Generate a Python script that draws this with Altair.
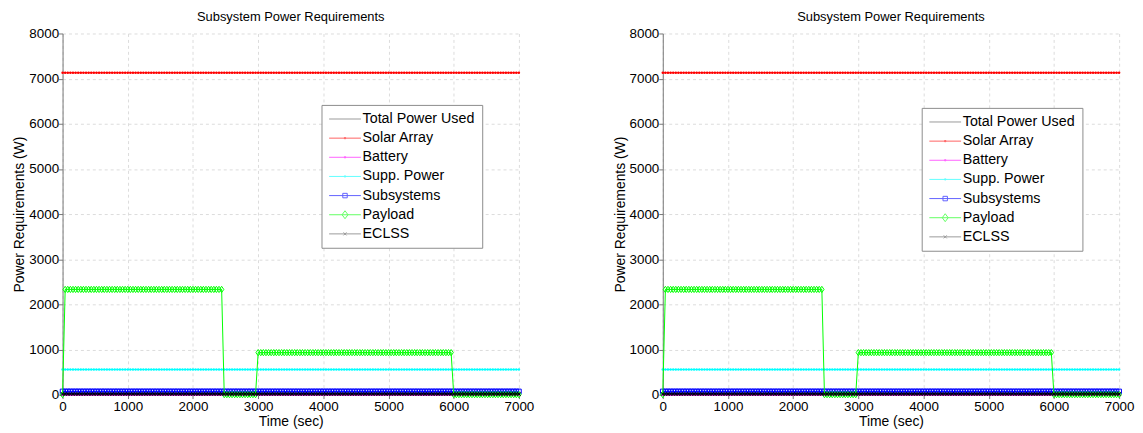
import altair as alt
import pandas as pd

# ---------------- data ----------------
SERIES = ["Total Power Used", "Solar Array", "Battery", "Supp. Power",
          "Subsystems", "Payload", "ECLSS"]

T_START, T_END, T_STEP = 0, 7000, 40          # sampling of the simulation (s)

TOTAL_W = 0          # hidden under the other traces
SOLAR_W = 7130
BATTERY_W = 0
SUPP_W = 555
SUBSYS_W = 70
ECLSS_W = 15
PAYLOAD_BREAKS = [0, 40, 2460, 3000, 6000, 7001]
PAYLOAD_LEVELS = [0, 2330, 0, 930, 0]

LEGEND_COLORS = ["#707070", "#ff2020", "#ff20ff", "#20ffff", "#2020ff", "#20ff20", "#707070"]

LINE = "M-3.2,0H3.2"
DOT = "M-0.12,-0.12H0.12V0.12H-0.12Z"
LEGEND_SHAPES = [
    LINE,
    LINE + DOT,
    LINE + DOT,
    LINE + DOT,
    LINE + "M-0.45,-0.45H0.45V0.45H-0.45Z",
    LINE + "M0,-0.8L0.6,0L0,0.8L-0.6,0Z",
    LINE + "M-0.3,-0.3L0.3,0.3M-0.3,0.3L0.3,-0.3",
]

# data-mark styles: colour, marker, marker size, filled
XMARK = "M-1,-1L1,1M-1,1L1,-1"
DIAMOND = "M0,-1L0.7,0L0,1L-0.7,0Z"
STYLE = {
    "Total Power Used": ("#000000", None, 0, False),
    "Solar Array": ("#ff0000", "circle", 6, True),
    "Battery": ("#ff00ff", "circle", 6, True),
    "Supp. Power": ("#00ffff", "circle", 6, True),
    "Subsystems": ("#0000ff", "square", 22, False),
    "Payload": ("#00ff00", DIAMOND, 40, False),
    "ECLSS": ("#000000", XMARK, 12, False),
}

times = list(range(T_START, T_END + 1, T_STEP))


def payload_at(t):
    for i in range(len(PAYLOAD_LEVELS)):
        if PAYLOAD_BREAKS[i] <= t < PAYLOAD_BREAKS[i + 1]:
            return PAYLOAD_LEVELS[i]
    return 0


constant = {
    "Total Power Used": TOTAL_W,
    "Solar Array": SOLAR_W,
    "Battery": BATTERY_W,
    "Supp. Power": SUPP_W,
    "Subsystems": SUBSYS_W,
    "ECLSS": ECLSS_W,
}

frames = {}
for s in SERIES:
    if s == "Payload":
        vals = [payload_at(t) for t in times]
    else:
        vals = [constant[s]] * len(times)
    frames[s] = pd.DataFrame({"t": times, "w": vals})

legend_df = pd.DataFrame({"series": SERIES})

FONT = "Liberation Sans"


def x_enc():
    return alt.X("t:Q", title="Time (sec)",
                 scale=alt.Scale(domain=[0, 7000], nice=False, zero=False),
                 axis=alt.Axis(values=list(range(0, 7001, 1000)), format="d",
                               labelFlush=False))


def y_enc():
    return alt.Y("w:Q", title="Power Requirements (W)",
                 scale=alt.Scale(domain=[0, 8000], nice=False),
                 axis=alt.Axis(values=list(range(0, 8001, 1000)), format="d",
                               labelFlush=False))


def panel(legend_y):
    layers = []
    for s in SERIES:
        color, shape, size, filled = STYLE[s]
        base = alt.Chart(frames[s]).encode(x=x_enc(), y=y_enc())
        layers.append(base.mark_line(color=color, strokeWidth=1))
        if shape is not None:
            layers.append(base.mark_point(color=color, shape=shape, size=size,
                                          filled=filled, strokeWidth=1, opacity=1))
    leg = alt.Chart(legend_df).mark_point(filled=False, strokeWidth=1).encode(
        color=alt.Color("series:N",
                        scale=alt.Scale(domain=SERIES, range=LEGEND_COLORS),
                        legend=alt.Legend(title=None, orient="none",
                                          legendX=261, legendY=legend_y,
                                          strokeColor="#8c8c8c", fillColor="white",
                                          padding=7, symbolSize=100,
                                          symbolStrokeWidth=1, symbolOffset=9.5,
                                          labelOffset=10.5, labelFontSize=14.4,
                                          labelFont=FONT, labelColor="black",
                                          rowPadding=4.3)),
        shape=alt.Shape("series:N", scale=alt.Scale(domain=SERIES, range=LEGEND_SHAPES)),
    ).transform_filter("datum.series == 'none'")
    layers.append(leg)
    return alt.layer(*layers).properties(
        width=460, height=364,
        title=alt.TitleParams("Subsystem Power Requirements", fontSize=13,
                              fontWeight="normal", font=FONT, color="black", offset=3),
    )


chart = alt.hconcat(panel(72), panel(75), spacing=78).properties(
    padding={"top": 1, "left": 4, "right": 0, "bottom": 0}
).resolve_scale(
    color="independent", shape="independent"
).resolve_legend(
    color="independent", shape="independent"
).configure_view(
    stroke=None
).configure_axis(
    grid=True, gridColor="#dcdcdc", gridDash=[3, 3], gridWidth=1,
    domainColor="#777777", tickColor="#777777", tickSize=4,
    labelFont=FONT, labelFontSize=13.5, labelColor="black", labelPadding=1,
    titleFont=FONT, titleFontSize=14, titleFontWeight="normal", titleColor="black",
).configure_axisX(titlePadding=2).configure_axisY(titlePadding=2, labelPadding=0)

chart.save("out.html", embed_options={"renderer": "svg", "actions": False})
